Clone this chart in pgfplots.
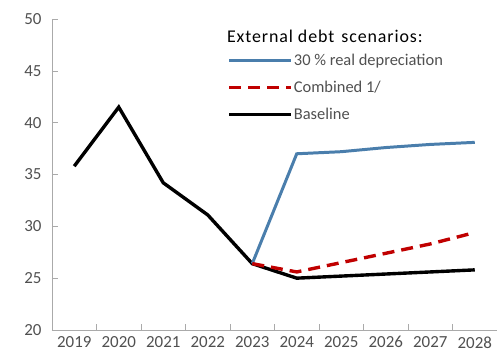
\documentclass[border=0pt]{standalone}
\usepackage{pgfplots}
\pgfplotsset{compat=1.18}
\usepackage{fontspec}
\setmainfont{Carlito}
\newfontfamily\titlefont[LetterSpace=5]{Carlito}
\definecolor{myblue}{RGB}{74,126,172}
\definecolor{myred}{RGB}{192,0,0}
\definecolor{axgray}{RGB}{170,170,170}
\definecolor{txtgray}{RGB}{80,80,80}
\begin{document}
\begin{tikzpicture}
\begin{axis}[
  scale only axis,
  width=445bp, height=311bp,
  xmin=-0.5, xmax=9.5,
  ymin=20, ymax=50,
  axis lines=left,
  axis line style={-, draw=axgray, line width=0.8pt},
  xtick={0,...,9},
  xticklabels={2019,2020,2021,2022,2023,2024,2025,2026,2027,2028},
  major x tick style={draw=none},
  minor xtick={0.5,1.5,...,8.5},
  minor x tick style={draw=axgray, line width=0.6pt},
  minor tick length=6bp,
  ytick={20,25,...,50},
  y tick style={draw=axgray, line width=0.6pt},
  major tick length=6bp,
  tick align=inside,
  ticklabel style={font=\fontsize{17}{20}\selectfont, text=txtgray},
  /pgf/number format/assume math mode=true,
  xticklabel style={yshift=-3bp},
  yticklabel style={xshift=-7bp},
  legend cell align=left,
  legend style={at={(axis description cs:0.394,0.89)}, anchor=north west,
    draw=none, fill=none, font=\fontsize{16.5}{19}\selectfont, text=txtgray,
    inner sep=0pt, row sep=12bp, nodes={inner sep=1bp}},
  legend image code/.code={\draw[#1] (0bp,0bp) -- (62bp,0bp);},
  clip=false,
]
\addplot[black, line width=3.4pt, forget plot] coordinates {
 (0,35.8) (1,41.5) (2,34.2) (3,31.1) (4,26.4) (5,25.0) (6,25.2) (7,25.4) (8,25.6) (9,25.8)};
\addplot[myblue, line width=3pt, forget plot] coordinates {
 (4,26.4) (5,37.0) (6,37.2) (7,37.6) (8,37.9) (9,38.1)};
\addplot[myred, line width=3.4pt, dash pattern=on 12bp off 7bp, forget plot] coordinates {
 (4,26.4) (5,25.6) (6,26.5) (7,27.4) (8,28.3) (9,29.4)};
\addlegendimage{myblue, line width=3pt}
\addlegendentry{30 \% real depreciation}
\addlegendimage{myred, line width=3.4pt, dash pattern=on 12bp off 7bp}
\addlegendentry{Combined 1/}
\addlegendimage{black, line width=3.4pt}
\addlegendentry{Baseline}
\node[anchor=base west, font=\titlefont\fontsize{18}{21}\selectfont, inner sep=0pt] at (axis description cs:0.393,0.924) {External debt\hspace{7bp}scenarios:};
\end{axis}
\pgfresetboundingbox
\path (current axis.south west) ++(-52bp,-30bp) rectangle ++(497bp,360bp);
\end{tikzpicture}
\end{document}
